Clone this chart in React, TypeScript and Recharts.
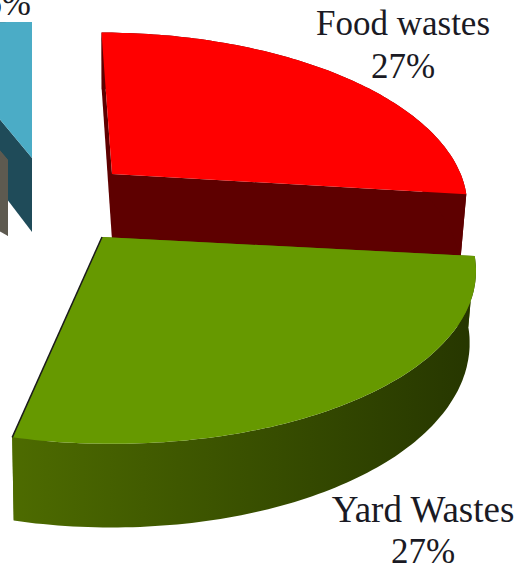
import { PieChart, Pie } from 'recharts';

// ── Data ─────────────────────────────────────────────────
const categories = ['Metals', 'Food wastes', 'Yard Wastes', 'Paper', 'Glass'];
const shares = [6, 27, 27, 34, 6];

// ── Slice look and placement ─────────────────────────────
type SliceStyle = {
  dx: number; // explode offset
  dy: number;
  twist: number; // degrees, perspective lean of the slice
  scale: number;
  depth: number;
  top: string;
  wall: string;
  wallEnd?: string; // wall gradient, left to right
  rim?: string;
};

const sliceStyles: Record<string, SliceStyle> = {
  Metals: { dx: -68, dy: -47, twist: 0, scale: 0.914, depth: 74, top: '#4bacc6', wall: '#1f4b59' },
  'Food wastes': { dx: 12, dy: -31, twist: -2, scale: 0.95, depth: 66, top: '#ff0000', wall: '#5e0000' },
  'Yard Wastes': { dx: 2, dy: 32, twist: -2.6, scale: 1, depth: 70, top: '#669900', wall: '#4d6b00', wallEnd: '#263600', rim: '#1c1c1c' },
  Paper: { dx: -130, dy: 10, twist: 0, scale: 1, depth: 70, top: '#1f497d', wall: '#10253f' },
  Glass: { dx: -92, dy: -45, twist: 0, scale: 0.914, depth: 76, top: '#5e5a50', wall: '#5e5a50' },
};

const labelStyles: Record<string, { x: number; y: number; anchor: string; showName: boolean; size: number; gap: number }> = {
  Metals: { x: 31, y: 15, anchor: 'end', showName: false, size: 35, gap: 0 },
  'Food wastes': { x: 403, y: 35, anchor: 'middle', showName: true, size: 35, gap: 43 },
  'Yard Wastes': { x: 423, y: 522, anchor: 'middle', showName: true, size: 37, gap: 41 },
};

const CHART_W = 528;
const CHART_H = 569;
const TILT = 0.469; // vertical squash of the pie plane
const PERSPECTIVE = 0.163;
const BASE_SHRINK = 0.983; // lower rim converges slightly

const tableData = categories.map((name, i) => ({ name, value: shares[i] }));

// Project a point of the pie plane (clockwise degrees from 12 o'clock)
function project(theta: number, rx: number, s: SliceStyle) {
  const rad = (theta * Math.PI) / 180;
  const u = Math.sin(rad);
  const v = Math.cos(rad);
  const w = 1 + PERSPECTIVE * v;
  return {
    x: (rx * s.scale * u) / w,
    y: (-rx * TILT * s.scale * v) / w + (5 * u) / w,
    w,
  };
}

const toPath = (pts: { x: number; y: number }[]) =>
  pts.map((p, i) => `${i ? 'L' : 'M'}${p.x.toFixed(1)},${p.y.toFixed(1)}`).join(' ') + ' Z';

// Extruded slice: side walls first, then the top face
function Slice3D(props: any) {
  const { cx, cy, outerRadius, startAngle, endAngle, name } = props;
  const s = sliceStyles[name];
  const ox = cx + s.dx;
  const oy = cy + s.dy;
  const from = 90 - startAngle + s.twist;
  const to = 90 - endAngle + s.twist;

  const arc: { x: number; y: number; w: number }[] = [];
  const steps = Math.max(2, Math.ceil(to - from));
  for (let i = 0; i <= steps; i++) {
    const p = project(from + ((to - from) * i) / steps, outerRadius, s);
    arc.push({ x: ox + p.x, y: oy + p.y, w: p.w });
  }
  const apex = { x: ox, y: oy };
  const drop = (p: { x: number; y: number; w?: number }) => ({
    x: ox + (p.x - ox) * BASE_SHRINK,
    y: p.y + s.depth / (p.w ?? 1),
  });
  const first = arc[0];
  const last = arc[arc.length - 1];
  const gradId = `wall-${name.replace(/\s/g, '')}`;

  return (
    <g>
      {s.wallEnd && (
        <defs>
          <linearGradient id={gradId} x1="0" y1="0" x2="1" y2="0">
            <stop offset="0%" stopColor={s.wall} />
            <stop offset="100%" stopColor={s.wallEnd} />
          </linearGradient>
        </defs>
      )}
      <path d={toPath([apex, first, drop(first), drop(apex)])} fill={s.wall} />
      <path d={toPath([apex, last, drop(last), drop(apex)])} fill={s.wall} />
      <path
        d={toPath([...arc, ...arc.map(drop).reverse()])}
        fill={s.wallEnd ? `url(#${gradId})` : s.wall}
      />
      <path d={toPath([apex, ...arc])} fill={s.top} />
      {s.rim && (
        <line x1={apex.x} y1={apex.y} x2={last.x} y2={last.y} stroke={s.rim} strokeWidth={1.5} />
      )}
    </g>
  );
}

// Name above the share, placed beside the slice
function SliceLabel(props: any) {
  const { name, value } = props;
  const l = labelStyles[name];
  if (!l) return null;
  return (
    <text
      x={l.x}
      y={l.y}
      textAnchor={l.anchor as any}
      fontFamily="'Liberation Serif', serif"
      fontSize={l.size}
      fill="#1a1a24"
    >
      {l.showName && <tspan x={l.x} dy={0}>{name}</tspan>}
      <tspan x={l.x} dy={l.gap} fontSize={35}>{`${value}%`}</tspan>
    </text>
  );
}

// ── Component ────────────────────────────────────────────
export default function App() {
  const start = 90 + (shares[0] / 100) * 360;
  return (
    <div style={{ position: 'absolute', left: 0, top: 0, width: CHART_W, height: CHART_H, background: '#fff' }}>
      <PieChart width={CHART_W} height={CHART_H} margin={{ top: 0, right: 0, bottom: 0, left: 0 }}>
        <Pie
          data={tableData}
          dataKey="value"
          nameKey="name"
          cx={100}
          cy={205}
          outerRadius={369}
          startAngle={start}
          endAngle={start - 360}
          stroke="none"
          shape={Slice3D}
          label={SliceLabel}
          labelLine={false}
          isAnimationActive={false}
        />
      </PieChart>
    </div>
  );
}
